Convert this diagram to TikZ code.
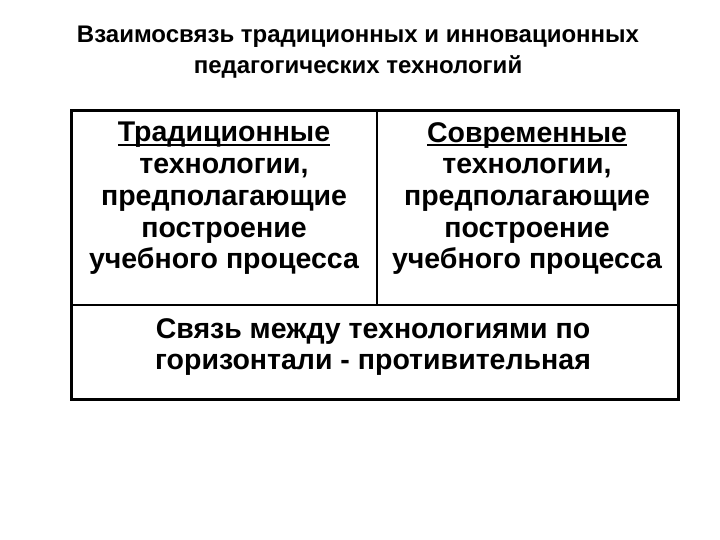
\documentclass[tikz,border=0pt]{standalone}
\usepackage{fontspec}
\setmainfont{Liberation Sans}
\newcommand\myul[1]{\setbox0\hbox{#1}\rlap{\vrule height -2.2pt depth 3.8pt width \wd0}\box0}
\begin{document}
\begin{tikzpicture}[x=1pt,y=-1pt,
  celltext/.style={align=center,font=\bfseries\fontsize{28.5}{31.7}\selectfont,inner sep=0pt},
  bottomtext/.style={align=center,font=\bfseries\fontsize{28.5}{30.5}\selectfont,inner sep=0pt},
  titletext/.style={align=center,font=\bfseries\fontsize{24}{31}\selectfont,inner sep=0pt},
  outer/.style={line width=3pt},
  inner/.style={line width=1.5pt}]
\useasboundingbox (0,0) rectangle (720,540);
\node[titletext] (title) at (358,52) {Взаимосвязь традиционных и инновационных\\педагогических технологий};
\coordinate (tl) at (71,111);
\coordinate (br) at (678,399);
\coordinate (ml) at (71,305);
\coordinate (mr) at (678,305);
\coordinate (vt) at (377,111);
\coordinate (vb) at (377,305);
\draw[inner] (ml) -- (mr);
\draw[inner] (vt) -- (vb);
\draw[outer] (tl) rectangle (br);
\node[celltext] (left) at (224,198.5) {\myul{Традиционные}\\технологии,\\предполагающие\\построение\\учебного процесса};
\node[celltext] (right) at (527,198.5) {\myul{Современные}\\технологии,\\предполагающие\\построение\\учебного процесса};
\node[bottomtext] (bottom) at (373,347) {Связь между технологиями по\\горизонтали - противительная};
\end{tikzpicture}
\end{document}
